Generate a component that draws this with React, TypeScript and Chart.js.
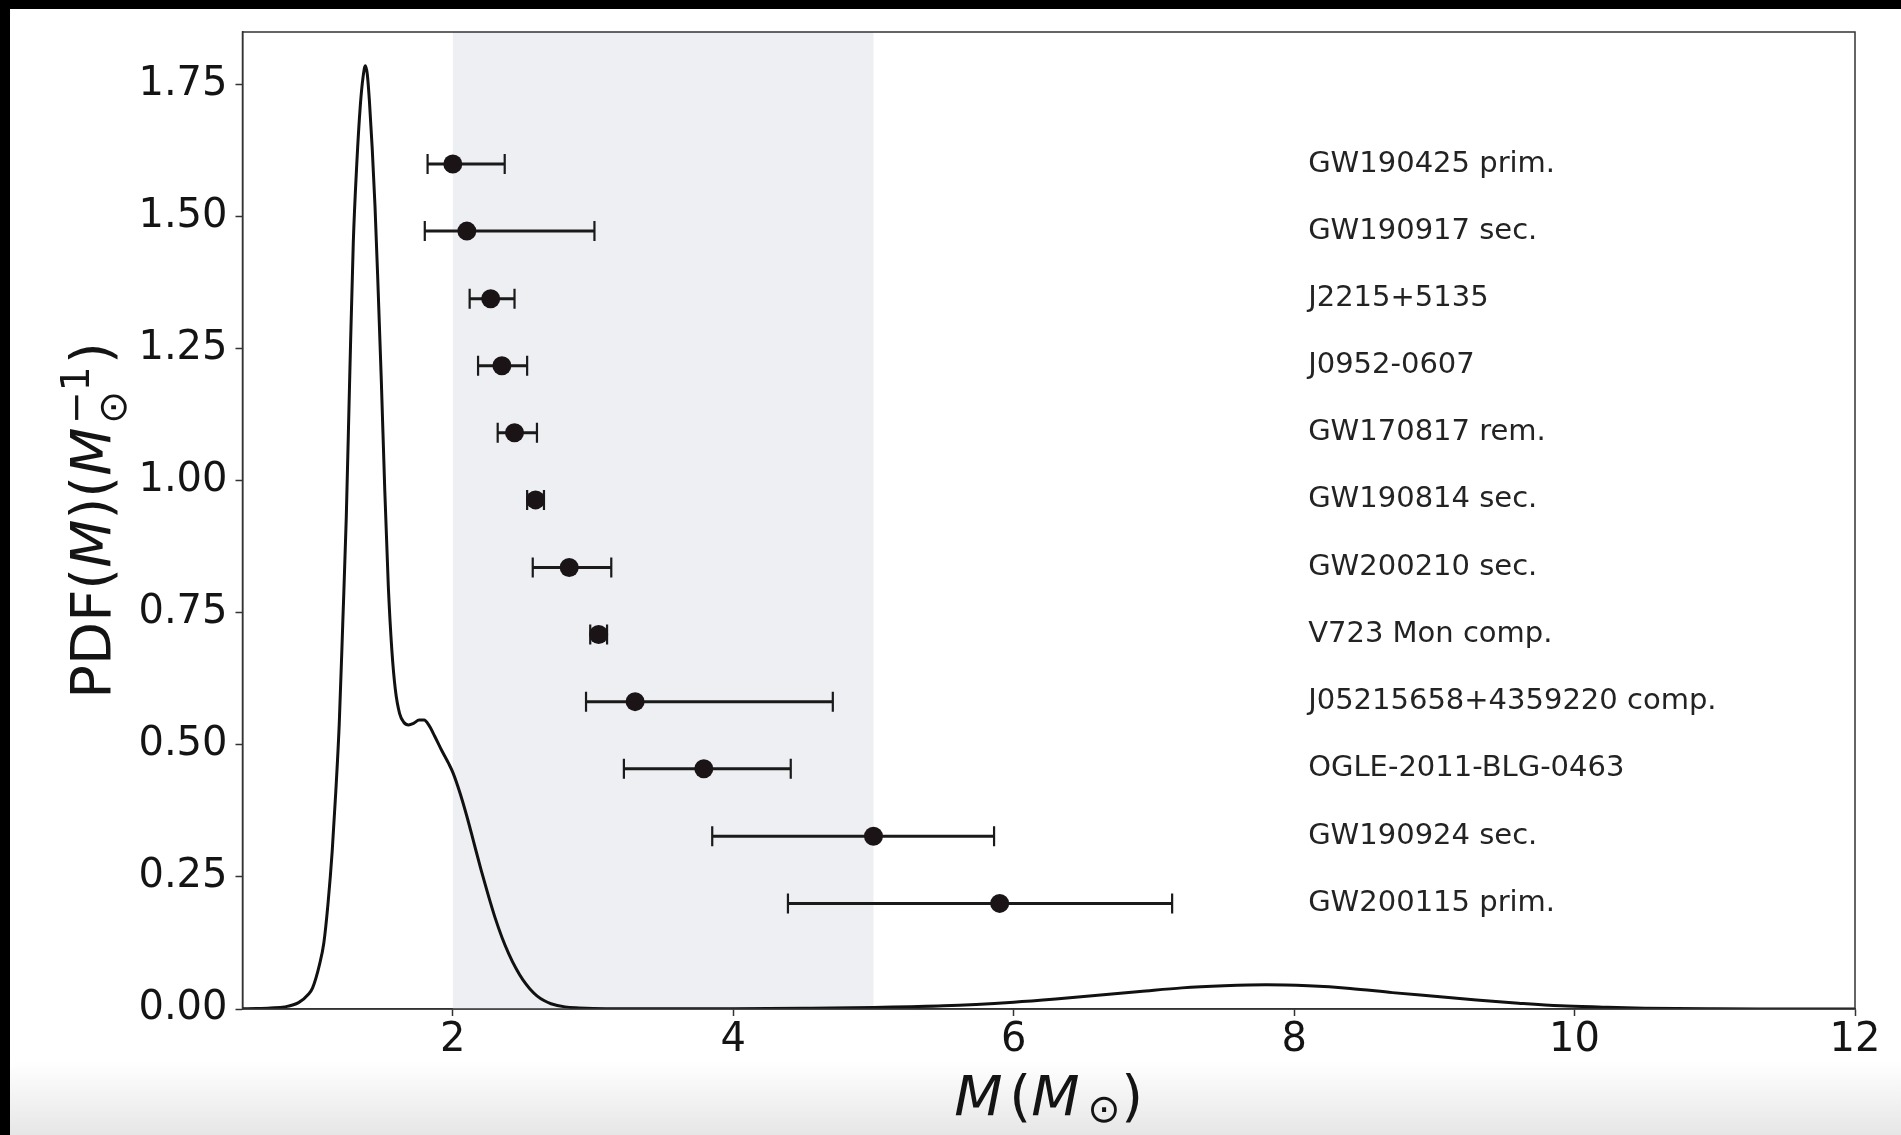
import { useEffect, useRef } from "react";
import { Chart, registerables } from "chart.js";

Chart.register(...registerables);

// Mass distribution curve (M in solar masses, PDF in 1/M_sun)
const pdfMass = [
  0.5, 0.6, 0.7, 0.8, 0.9, 0.97, 1.0, 1.05, 1.08, 1.11, 1.14, 1.165, 1.19, 1.215, 1.24, 1.265,
  1.29, 1.315, 1.34, 1.36, 1.376, 1.39, 1.405, 1.425, 1.445, 1.465, 1.49, 1.515, 1.54, 1.565,
  1.59, 1.62, 1.65, 1.685, 1.72, 1.76, 1.795, 1.83, 1.87, 1.92, 1.97, 2.0, 2.05, 2.1, 2.15,
  2.2, 2.25, 2.3, 2.35, 2.4, 2.45, 2.5, 2.55, 2.6, 2.65, 2.7, 2.8, 2.9, 3.0, 3.5, 4.0, 4.5,
  5.0, 5.5, 6.0, 6.3, 6.6, 6.9, 7.2, 7.5, 7.8, 8.1, 8.4, 8.7, 9.0, 9.3, 9.6, 9.9, 10.2, 10.5,
  11.0, 11.5, 12.0,
];
const pdfDensity = [
  0.0005, 0.001, 0.002, 0.004, 0.012, 0.028, 0.04, 0.085, 0.125, 0.2, 0.3, 0.41, 0.54, 0.73,
  0.93, 1.2, 1.45, 1.6, 1.71, 1.765, 1.786, 1.77, 1.72, 1.63, 1.52, 1.38, 1.19, 0.98, 0.8,
  0.68, 0.605, 0.56, 0.543, 0.538, 0.541, 0.547, 0.547, 0.537, 0.517, 0.49, 0.465, 0.448,
  0.41, 0.365, 0.315, 0.265, 0.218, 0.174, 0.136, 0.104, 0.077, 0.055, 0.038, 0.025, 0.016,
  0.01, 0.004, 0.002, 0.001, 0.0003, 0.0006, 0.0015, 0.003, 0.006, 0.013, 0.019, 0.026,
  0.033, 0.04, 0.044, 0.046, 0.044, 0.039, 0.031, 0.024, 0.017, 0.011, 0.006, 0.0035,
  0.0015, 0.0004, 0.0001, 0.0,
];

// Compact objects with mass estimates and uncertainty ranges
const objectNames = [
  "GW190425 prim.",
  "GW190917 sec.",
  "J2215+5135",
  "J0952-0607",
  "GW170817 rem.",
  "GW190814 sec.",
  "GW200210 sec.",
  "V723 Mon comp.",
  "J05215658+4359220 comp.",
  "OGLE-2011-BLG-0463",
  "GW190924 sec.",
  "GW200115 prim.",
];
const objectMass = [2.0, 2.1, 2.27, 2.35, 2.44, 2.59, 2.83, 3.04, 3.3, 3.79, 5.0, 5.9];
const objectMassLow = [1.82, 1.8, 2.12, 2.18, 2.32, 2.53, 2.57, 2.98, 2.95, 3.22, 3.85, 4.39];
const objectMassHigh = [2.37, 3.01, 2.44, 2.53, 2.6, 2.65, 3.13, 3.1, 4.71, 4.41, 5.86, 7.13];
const objectRow = [1.6, 1.473, 1.345, 1.218, 1.091, 0.964, 0.836, 0.709, 0.582, 0.455, 0.327, 0.2];
const labelMass = 8.1;

// Lower mass gap band
const massGap = [2, 5];

const xTicks = [2, 4, 6, 8, 10, 12];
const yTicks = [0, 0.25, 0.5, 0.75, 1.0, 1.25, 1.5, 1.75];

const FONT = "'DejaVu Sans', sans-serif";
const INK = "#141414";

type Piece = {
  text: string;
  italic?: boolean;
  scale?: number;
  rise?: number; // in em of the base size
  gapBefore?: number; // in em of the base size
  stackText?: string; // second script stacked at same position
  stackRise?: number;
};

function pieceFont(p: { italic?: boolean }, size: number) {
  return `${p.italic ? "oblique " : ""}${size}px ${FONT}`;
}

function layoutMath(ctx: CanvasRenderingContext2D, pieces: Piece[], size: number) {
  let x = 0;
  const placed: { text: string; x: number; rise: number; font: string }[] = [];
  for (const p of pieces) {
    x += (p.gapBefore ?? 0) * size;
    const s = size * (p.scale ?? 1);
    const font = pieceFont(p, s);
    ctx.font = font;
    let adv = ctx.measureText(p.text).width;
    placed.push({ text: p.text, x, rise: (p.rise ?? 0) * size, font });
    if (p.stackText) {
      const w2 = ctx.measureText(p.stackText).width;
      placed.push({ text: p.stackText, x, rise: (p.stackRise ?? 0) * size, font });
      adv = Math.max(adv, w2);
    }
    x += adv;
  }
  return { placed, width: x };
}

function drawMath(
  ctx: CanvasRenderingContext2D,
  pieces: Piece[],
  size: number,
  cx: number,
  baseline: number,
  rotate: boolean
) {
  ctx.save();
  ctx.translate(cx, baseline);
  if (rotate) ctx.rotate(-Math.PI / 2);
  const { placed, width } = layoutMath(ctx, pieces, size);
  ctx.fillStyle = INK;
  ctx.textBaseline = "alphabetic";
  ctx.textAlign = "left";
  for (const p of placed) {
    ctx.font = p.font;
    ctx.fillText(p.text, p.x - width / 2, -p.rise);
  }
  ctx.restore();
}

const xTitle: Piece[] = [
  { text: "M", italic: true },
  { text: "(", gapBefore: 0.12 },
  { text: "M", italic: true },
  { text: "\u2299", scale: 0.7, rise: -0.12, gapBefore: 0.14 },
  { text: ")", gapBefore: 0.02 },
];

const yTitle: Piece[] = [
  { text: "PDF(" },
  { text: "M", italic: true },
  { text: ")(" },
  { text: "M", italic: true },
  {
    text: "\u2299",
    scale: 0.7,
    rise: -0.29,
    gapBefore: 0.06,
    stackText: "\u22121",
    stackRise: 0.37,
  },
  { text: ")", gapBefore: 0.04 },
];

const backdrop = {
  id: "backdrop",
  beforeDraw(chart: any) {
    const { ctx, width, height } = chart;
    ctx.save();
    ctx.fillStyle = "#000";
    ctx.fillRect(0, 0, width, height);
    ctx.fillStyle = "#fff";
    ctx.fillRect(10, 9, width - 10, height - 9);
    const g = ctx.createLinearGradient(0, 1062, 0, height);
    g.addColorStop(0, "rgba(230,230,230,0)");
    g.addColorStop(1, "rgba(230,230,230,1)");
    ctx.fillStyle = g;
    ctx.fillRect(10, 1062, width - 10, height - 1062);
    ctx.restore();
  },
};

const gapAndErrors = {
  id: "gapAndErrors",
  beforeDatasetsDraw(chart: any) {
    const { ctx, chartArea } = chart;
    const xs = chart.scales.x;
    const ys = chart.scales.y;
    ctx.save();
    const x0 = xs.getPixelForValue(massGap[0]);
    const x1 = xs.getPixelForValue(massGap[1]);
    ctx.fillStyle = "#eeeff2";
    ctx.fillRect(x0, chartArea.top, x1 - x0, chartArea.bottom - chartArea.top);

    ctx.strokeStyle = "#1a1a1a";
    const cap = 10;
    objectMass.forEach((_, i) => {
      const y = ys.getPixelForValue(objectRow[i]);
      const a = xs.getPixelForValue(objectMassLow[i]);
      const b = xs.getPixelForValue(objectMassHigh[i]);
      ctx.lineWidth = 3;
      ctx.beginPath();
      ctx.moveTo(a, y);
      ctx.lineTo(b, y);
      ctx.stroke();
      ctx.lineWidth = 2.2;
      ctx.beginPath();
      ctx.moveTo(a, y - cap);
      ctx.lineTo(a, y + cap);
      ctx.moveTo(b, y - cap);
      ctx.lineTo(b, y + cap);
      ctx.stroke();
    });
    ctx.restore();
  },
  afterDatasetsDraw(chart: any) {
    const { ctx, chartArea } = chart;
    const xs = chart.scales.x;
    const ys = chart.scales.y;
    ctx.save();
    ctx.strokeStyle = "#333";
    ctx.lineWidth = 1.5;
    ctx.strokeRect(chartArea.left, chartArea.top, chartArea.right - chartArea.left, chartArea.bottom - chartArea.top);

    ctx.fillStyle = "#232323";
    ctx.font = `29px ${FONT}`;
    ctx.textAlign = "left";
    ctx.textBaseline = "middle";
    objectNames.forEach((name, i) => {
      ctx.fillText(name, xs.getPixelForValue(labelMass), ys.getPixelForValue(objectRow[i]));
    });
    ctx.restore();
  },
  afterDraw(chart: any) {
    const { ctx, chartArea } = chart;
    const cx = (chartArea.left + chartArea.right) / 2;
    const cy = (chartArea.top + chartArea.bottom) / 2;
    drawMath(ctx, xTitle, 56, cx, 1115, false);
    drawMath(ctx, yTitle, 56, 109.5, cy, true);
  },
};

export default function App() {
  const canvasRef = useRef<HTMLCanvasElement>(null);

  useEffect(() => {
    const canvas = canvasRef.current;
    if (!canvas) return;

    const curve = pdfMass.map((m, i) => ({ x: m, y: pdfDensity[i] }));
    const points = objectMass.map((m, i) => ({ x: m, y: objectRow[i] }));

    const chart = new Chart(canvas, {
      type: "scatter",
      data: {
        datasets: [
          {
            label: "objects",
            data: points,
            pointRadius: 9.5,
            pointHoverRadius: 9.5,
            pointBackgroundColor: "#1a1416",
            pointBorderColor: "#1a1416",
            pointBorderWidth: 0,
            showLine: false,
          },
          {
            type: "line",
            label: "PDF",
            data: curve,
            borderColor: "#111",
            borderWidth: 3,
            pointRadius: 0,
            fill: false,
            cubicInterpolationMode: "monotone",
          } as any,
        ],
      },
      options: {
        responsive: false,
        animation: false,
        devicePixelRatio: 1,
        events: [],
        layout: { padding: { left: 0, top: 29, right: 46, bottom: 0 } },
        plugins: {
          legend: { display: false },
          tooltip: { enabled: false },
          title: { display: false },
        },
        scales: {
          x: {
            type: "linear",
            min: 0.5,
            max: 12,
            afterBuildTicks: (s: any) => {
              s.ticks = xTicks.map((v) => ({ value: v }));
            },
            afterFit: (s: any) => {
              s.height = 126;
            },
            grid: {
              display: true,
              drawOnChartArea: false,
              drawTicks: true,
              tickLength: 7,
              tickWidth: 1.5,
              tickColor: "#333",
            },
            border: { display: true, color: "#333", width: 1.5 },
            ticks: {
              font: { family: FONT, size: 40 },
              color: INK,
              padding: 1,
              maxRotation: 0,
              autoSkip: false,
              callback: (v: any) => String(v),
            },
          },
          y: {
            type: "linear",
            min: 0,
            max: 1.85,
            afterBuildTicks: (s: any) => {
              s.ticks = yTicks.map((v) => ({ value: v }));
            },
            afterFit: (s: any) => {
              s.width = 242.5;
            },
            grid: {
              display: true,
              drawOnChartArea: false,
              drawTicks: true,
              tickLength: 7,
              tickWidth: 1.5,
              tickColor: "#333",
            },
            border: { display: true, color: "#333", width: 1.5 },
            ticks: {
              font: { family: FONT, size: 40 },
              color: INK,
              padding: 8,
              autoSkip: false,
              callback: (v: any) => Number(v).toFixed(2),
            },
          },
        },
      },
      plugins: [backdrop, gapAndErrors],
    });

    return () => chart.destroy();
  }, []);

  return (
    <div style={{ position: "fixed", left: 0, top: 0, width: 1901, height: 1135 }}>
      <canvas
        ref={canvasRef}
        width={1901}
        height={1135}
        style={{ display: "block", width: 1901, height: 1135 }}
      />
    </div>
  );
}
